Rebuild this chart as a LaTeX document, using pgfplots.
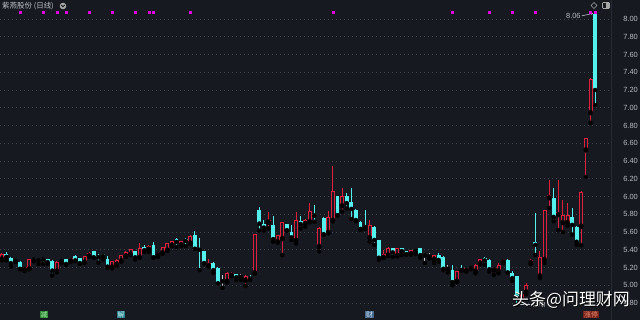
\documentclass[border=0pt]{standalone}
\usepackage{pgfplots}
\pgfplotsset{compat=1.18}
\usepackage{pgfplotstable}
\usetikzlibrary{arrows.meta}
\usepackage{fontspec}
\setmainfont{Liberation Sans}
\newfontfamily\cjk{Noto Sans CJK SC}
\definecolor{panelbg}{RGB}{22,25,31}
\definecolor{upc}{RGB}{222,32,60}
\definecolor{dnc}{RGB}{84,240,238}
\definecolor{flc}{RGB}{200,200,200}
\definecolor{gridc}{RGB}{66,70,80}
\definecolor{lblc}{RGB}{185,188,195}
\definecolor{mag}{RGB}{225,0,225}
\definecolor{sepc}{RGB}{38,42,50}

% rising days (hollow red)
\pgfplotstableread{
i o h l c
0 5.29 5.36 5.28 5.35
5 5.17 5.20 5.16 5.20
6 5.18 5.30 5.18 5.29
12 5.155 5.27 5.145 5.26
15 5.27 5.31 5.26 5.305
18 5.255 5.33 5.25 5.325
19 5.325 5.37 5.32 5.36
24 5.20 5.27 5.19 5.27
25 5.23 5.29 5.22 5.285
26 5.27 5.345 5.265 5.34
27 5.325 5.38 5.32 5.37
28 5.345 5.41 5.34 5.405
30 5.31 5.48 5.31 5.42
32 5.40 5.45 5.375 5.445
34 5.335 5.37 5.32 5.36
35 5.36 5.43 5.355 5.43
36 5.39 5.48 5.385 5.475
37 5.445 5.50 5.44 5.495
39 5.45 5.50 5.44 5.494
41 5.47 5.565 5.465 5.56
45 5.215 5.30 5.21 5.255
49 5.04 5.15 5.03 5.14
50 5.105 5.15 5.10 5.14
53 5.05 5.11 4.99 5.105
55 5.135 5.58 5.13 5.575
58 5.705 5.83 5.64 5.74
60 5.485 5.57 5.48 5.565
61 5.52 5.715 5.34 5.71
64 5.50 5.83 5.47 5.74
66 5.69 5.75 5.66 5.74
67 5.71 5.93 5.71 5.835
69 5.43 5.655 5.38 5.65
71 5.59 5.84 5.585 5.77
72 5.725 6.34 5.72 6.06
74 5.89 6.10 5.83 6.00
80 5.53 5.735 5.49 5.68
83 5.31 5.40 5.305 5.35
84 5.335 5.43 5.33 5.425
86 5.33 5.42 5.325 5.415
89 5.35 5.40 5.345 5.395
94 5.285 5.345 5.25 5.34
99 5.04 5.16 5.035 5.155
101 5.16 5.195 5.155 5.19
103 5.155 5.235 5.135 5.23
104 5.24 5.30 5.235 5.29
107 5.165 5.21 5.115 5.19
108 5.155 5.25 5.135 5.23
109 5.255 5.29 5.25 5.28
113 4.84 4.93 4.82 4.90
114 4.92 5.03 4.90 5.00
115 5.25 5.29 5.24 5.28
117 5.10 5.38 5.08 5.315
118 5.285 5.85 5.25 5.85
119 5.98 6.19 5.87 6.02
121 5.79 6.18 5.62 5.82
122 5.70 5.96 5.60 5.79
123 5.70 5.93 5.67 5.79
126 5.66 6.06 5.45 6.05
127 6.52 6.66 6.22 6.66
128 6.94 7.33 6.83 7.32
}\upt

% falling days (filled cyan)
\pgfplotstableread{
i o h l c
1 5.355 5.37 5.28 5.32
2 5.31 5.32 5.21 5.25
4 5.26 5.27 5.18 5.185
7 5.30 5.31 5.27 5.29
8 5.29 5.29 5.24 5.28
9 5.30 5.30 5.24 5.29
10 5.30 5.30 5.24 5.26
11 5.275 5.28 5.11 5.165
14 5.29 5.29 5.23 5.24
16 5.33 5.34 5.27 5.28
17 5.305 5.31 5.24 5.25
20 5.39 5.39 5.31 5.315
21 5.33 5.35 5.255 5.315
22 5.35 5.355 5.29 5.33
23 5.295 5.33 5.20 5.21
29 5.39 5.39 5.29 5.315
31 5.435 5.45 5.375 5.395
33 5.455 5.49 5.31 5.315
38 5.525 5.535 5.43 5.487
40 5.525 5.53 5.44 5.50
42 5.565 5.61 5.41 5.41
43 5.425 5.53 5.17 5.40
44 5.38 5.38 5.245 5.25
46 5.255 5.26 5.14 5.17
47 5.19 5.21 5.02 5.02
51 5.125 5.13 5.06 5.09
54 5.095 5.11 5.06 5.075
56 5.845 5.885 5.615 5.695
57 5.695 5.74 5.615 5.65
59 5.675 5.78 5.49 5.52
62 5.685 5.69 5.615 5.62
63 5.60 5.68 5.51 5.54
65 5.725 5.78 5.64 5.69
68 5.80 5.905 5.715 5.785
70 5.76 5.765 5.57 5.575
73 6.00 6.00 5.785 5.79
75 6.00 6.04 5.865 5.925
76 5.935 6.10 5.745 5.86
77 5.85 5.86 5.72 5.735
78 5.715 5.72 5.62 5.635
79 5.67 5.85 5.635 5.655
81 5.66 5.665 5.455 5.51
82 5.51 5.51 5.285 5.31
85 5.415 5.42 5.32 5.37
87 5.415 5.42 5.34 5.385
88 5.38 5.385 5.345 5.35
90 5.40 5.405 5.35 5.385
91 5.415 5.42 5.31 5.34
95 5.34 5.36 5.265 5.285
96 5.32 5.325 5.17 5.185
98 5.17 5.23 5.00 5.035
100 5.185 5.23 5.165 5.17
105 5.305 5.315 5.23 5.28
106 5.285 5.29 5.155 5.18
110 5.285 5.29 5.14 5.145
111 5.14 5.155 5.05 5.08
112 5.10 5.10 4.78 4.86
116 5.49 5.81 5.34 5.455
120 5.98 6.09 5.72 5.77
124 5.77 5.87 5.57 5.68
125 5.66 5.67 5.455 5.49
129 8.06 8.06 7.03 7.20
}\dnt

% unchanged days (grey)
\pgfplotstableread{
i o h l c
3 5.28 5.30 5.26 5.28
13 5.28 5.29 5.25 5.28
48 5.05 5.12 4.97 5.05
52 5.10 5.13 5.06 5.10
92 5.34 5.35 5.25 5.34
93 5.33 5.36 5.30 5.33
97 5.19 5.23 5.145 5.19
102 5.20 5.22 5.18 5.20
}\flt

\begin{document}
\begin{tikzpicture}[x=1bp,y=1bp]
\fill[panelbg] (0,0) rectangle (640,320);
\begin{axis}[
  at={(0,0)}, anchor=south west,
  scale only axis, width=611bp, height=320bp,
  xmin=-0.37, xmax=132.46, ymin=4.608, ymax=8.214,
  axis x line=none, axis y line*=right,
  y axis line style={draw=sepc, line width=1bp, -},
  xtick=\empty,
  ytick={4.8,5.0,5.2,5.4,5.6,5.8,6.0,6.2,6.4,6.6,6.8,7.0,7.2,7.4,7.6,7.8,8.0},
  major tick length=0pt,
  ymajorgrids,
  major grid style={draw=gridc, line width=0.6bp, dash pattern=on 1bp off 3bp},
  yticklabel style={/pgf/number format/.cd, fixed, fixed zerofill, precision=2, assume math mode=true, /tikz/.cd,
    anchor=east, inner sep=0pt, xshift=27bp, text=lblc, font=\fontsize{7.5}{8}\selectfont},
  clip=false,
]
% wicks
\addplot[only marks, mark=none, error bars/.cd, y dir=plus, y explicit, error mark=none, error bar style={color=upc, line width=1bp}]
  table[x=i, y=l, y error plus expr=\thisrow{h}-\thisrow{l}] {\upt};
\addplot[only marks, mark=none, error bars/.cd, y dir=plus, y explicit, error mark=none, error bar style={color=dnc, line width=1bp}]
  table[x=i, y=l, y error plus expr=\thisrow{h}-\thisrow{l}] {\dnt};
\addplot[only marks, mark=none, error bars/.cd, y dir=plus, y explicit, error mark=none, error bar style={color=flc, line width=1bp}]
  table[x=i, y=l, y error plus expr=\thisrow{h}-\thisrow{l}] {\flt};
% rising bodies: red outline
\addplot[only marks, mark=none, error bars/.cd, y dir=plus, y explicit, error mark=none, error bar style={color=upc, line width=4bp}]
  table[x=i, y=o, y error plus expr={max(\thisrow{c}-\thisrow{o},0.012)}] {\upt};
% rising bodies: dark interior
\addplot[only marks, mark=none, error bars/.cd, y dir=plus, y explicit, error mark=none, error bar style={color=panelbg, line width=2bp}]
  table[x=i, y expr=\thisrow{o}+0.0113, y error plus expr={max(\thisrow{c}-\thisrow{o}-0.0226,0)}] {\upt};
% falling bodies
\addplot[only marks, mark=none, error bars/.cd, y dir=plus, y explicit, error mark=none, error bar style={color=dnc, line width=3.8bp}]
  table[x=i, y=c, y error plus expr={max(\thisrow{o}-\thisrow{c},0.012)}] {\dnt};
% unchanged bodies
\addplot[only marks, mark=none, error bars/.cd, y dir=plus, y explicit, error mark=none, error bar style={color=flc, line width=3.8bp}]
  table[x=i, y expr=\thisrow{o}-0.006, y error plus expr=0.012] {\flt};
% event dots
\addplot[only marks, mark=square*, mark size=1bp, color=mag, mark options={draw=mag, fill=mag}]
  coordinates {(4,8.071) (9,8.071) (12,8.071) (14,8.071) (19,8.071) (24,8.071) (29,8.071) (32,8.071) (33,8.071) (41,8.071)
  (72,8.071) (98,8.071) (106,8.071) (111,8.071) (116,8.071) (128,8.071) (129,8.071)};
% max / min labels
\draw[-{Stealth[length=2.5bp,width=2bp]}, draw=lblc, line width=0.6bp] (axis cs:126.1,8.035) -- (axis cs:128.6,8.064);
\node[anchor=east, inner sep=0pt, text=lblc, font=\fontsize{7.5}{8}\selectfont] at (axis cs:125.9,8.03) {8.06};
\draw[draw=lblc, line width=0.6bp] (axis cs:112.6,4.78) -- (axis cs:114.8,4.78);
\node[anchor=west, inner sep=0pt, text=lblc, font=\fontsize{7.5}{8}\selectfont] at (axis cs:115,4.78) {4.78};
\end{axis}
% title
\node[anchor=west, inner sep=0pt, text=lblc!90!white, font=\cjk\fontsize{7.5}{8}\selectfont] at (2,314) {紫燕股份 (日线)};
\fill[gray!70] (63,314) circle (3.3);
\draw[panelbg, line width=0.8bp] (61.3,315) -- (63,313.2) -- (64.7,315);
% top-right icons
\draw[gray!70, line width=0.6bp] (594,317.5) -- (597,314.5) -- (594,311.5) -- (591,314.5) -- cycle;
\draw[gray!70, line width=0.6bp, rounded corners=0.8] (602.5,311.5) rectangle (609.5,317.5);
\fill[gray!70] (606,312.1) rectangle (609,316.9);
% event tags
\node[fill={rgb,255:red,45;green,135;blue,50}, text={rgb,255:red,170;green,235;blue,170}, inner sep=0.7bp, font=\cjk\fontsize{7}{7}\selectfont] at (44,5.5) {减};
\node[fill={rgb,255:red,40;green,125;blue,135}, text={rgb,255:red,190;green,235;blue,240}, inner sep=0.7bp, font=\cjk\fontsize{7}{7}\selectfont] at (121,5.5) {解};
\node[fill={rgb,255:red,70;green,105;blue,140}, text={rgb,255:red,200;green,220;blue,240}, inner sep=0.7bp, font=\cjk\fontsize{7}{7}\selectfont] at (369.5,5.5) {财};
\node[fill={rgb,255:red,120;green,35;blue,30}, text={rgb,255:red,235;green,140;blue,110}, inner sep=0.7bp, font=\cjk\fontsize{7}{7}\selectfont] at (591,5.5) {涨停};
% watermark
\node[anchor=west, inner sep=0pt, text=black, font=\cjk\fontsize{17}{18}\selectfont] at (512.8,19.2) {头条@问理财网};
\node[anchor=west, inner sep=0pt, text=white, font=\cjk\fontsize{17}{18}\selectfont] at (512,20) {头条@问理财网};
\pgfresetboundingbox
\useasboundingbox (0,0) rectangle (640,320);
\end{tikzpicture}
\end{document}
